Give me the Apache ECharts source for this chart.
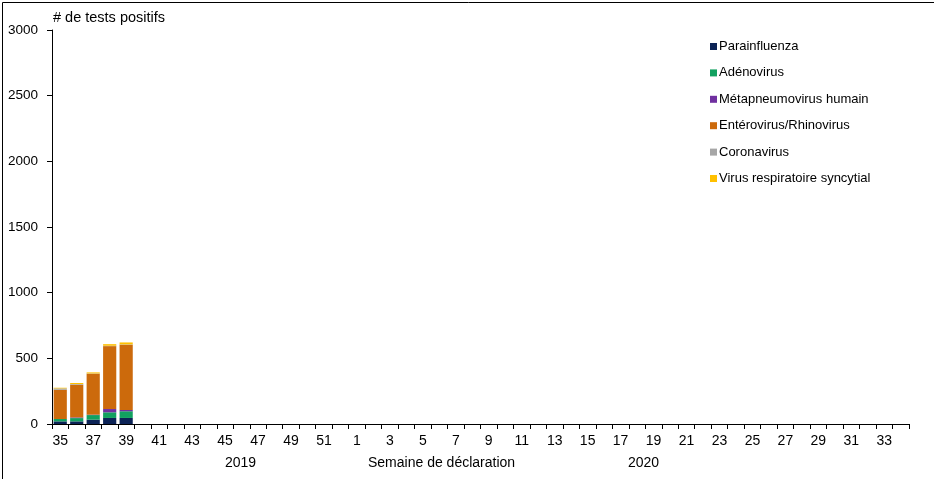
<!DOCTYPE html>
<html>
<head>
<meta charset="utf-8">
<script src="https://cdn.jsdelivr.net/npm/echarts@6/dist/echarts.min.js"></script>
<style>
html,body{margin:0;padding:0;background:#fff;}
#c{width:934px;height:479px;}
</style>
</head>
<body>
<div id="c"></div>
<script>
var weeks = ['35','36','37','38','39','40','41','42','43','44','45','46','47','48','49','50','51','52',
  '1','2','3','4','5','6','7','8','9','10','11','12','13','14','15','16','17','18','19','20','21','22','23','24','25','26','27','28','29','30','31','32','33','34'];
var parainfluenza = [20, 20, 33, 46, 46];
var adenovirus    = [18, 25, 35, 43, 51];
var metapneumo    = [0, 5, 3, 25, 10];
var enterorhino   = [223, 249, 312, 479, 496];
var coronavirus   = [10, 5, 2, 3, 3];
var vrs           = [5, 8, 8, 12, 15];
var yTicks = [0, 500, 1000, 1500, 2000, 2500, 3000];

var names = ['Parainfluenza','Adénovirus','Métapneumovirus humain','Entérovirus/Rhinovirus','Coronavirus','Virus respiratoire syncytial'];
var colors = ['#0c2356','#12a160','#7030a0','#cc6a0c','#a6a6a6','#ffc000'];
var datas = [parainfluenza, adenovirus, metapneumo, enterorhino, coronavirus, vrs];

function pad(arr){ var out = []; for (var i=0;i<weeks.length;i++){ out.push(i<arr.length?arr[i]:null);} return out; }

var series = names.map(function(n,i){
  return {name:n,type:'bar',stack:'a',data:pad(datas[i]),barWidth:'80%',
    itemStyle:{color:colors[i]}};
});

var chart = echarts.init(document.getElementById('c'));
var font = 'Liberation Sans, Arial, sans-serif';
chart.setOption({
  animation:false,
  textStyle:{fontFamily:font},
  grid:{left:52,right:25,top:30,bottom:55},
  legend:{
    orient:'vertical',left:705,top:35,itemWidth:7,itemHeight:7,itemGap:13.4,
    icon:'rect',textStyle:{fontSize:13,color:'#000',fontFamily:font,padding:[0,0,0,-3]},
    data:names
  },
  xAxis:{
    type:'category',data:weeks,
    axisLine:{lineStyle:{color:'#000',width:1}},
    axisTick:{show:true,interval:0,length:5,lineStyle:{color:'#000'}},
    axisLabel:{interval:1,color:'#000',fontSize:14,margin:10,fontFamily:font},
    splitLine:{show:false}
  },
  yAxis:{
    type:'value',min:yTicks[0],max:yTicks[yTicks.length-1],interval:500,
    axisLine:{show:true,lineStyle:{color:'#000',width:1}},
    axisTick:{show:true,length:5,lineStyle:{color:'#000'}},
    axisLabel:{color:'#000',fontSize:13.5,margin:14,fontFamily:font,formatter:function(v){return String(v);}},
    splitLine:{show:false}
  },
  graphic:[
    {type:'rect',left:0,top:0,shape:{width:933,height:478},style:{fill:'none',stroke:'#000',lineWidth:1},silent:true,z:100},
    {type:'text',left:53,top:10,style:{text:'# de tests positifs',fontSize:14.5,fill:'#000',fontFamily:font}},
    {type:'text',left:225,top:456,style:{text:'2019',fontSize:14,fill:'#000',fontFamily:font}},
    {type:'text',left:368,top:456,style:{text:'Semaine de déclaration',fontSize:14,fill:'#000',fontFamily:font}},
    {type:'text',left:628,top:456,style:{text:'2020',fontSize:14,fill:'#000',fontFamily:font}}
  ],
  series:series
});
</script>
</body>
</html>
